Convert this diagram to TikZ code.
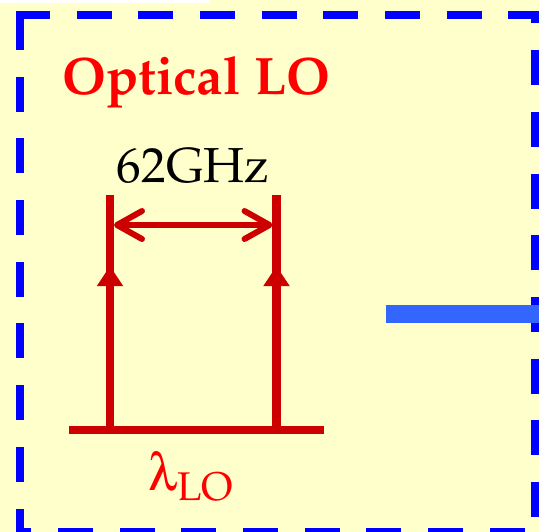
\documentclass[tikz,border=0pt]{standalone}
\usepackage[T1]{fontenc}
\usepackage{mathpazo}
\usepackage[Symbol]{upgreek}
\usepackage{tikz}
\usetikzlibrary{arrows.meta, positioning}
\definecolor{lored}{RGB}{204,0,0}
\definecolor{txtred}{RGB}{255,0,0}
\definecolor{boxblue}{RGB}{0,0,255}
\definecolor{fiberblue}{RGB}{51,102,255}
\definecolor{bgyellow}{RGB}{255,255,204}
\tikzset{
  boxline/.style={line width=4.55pt, color=boxblue,
    dash pattern=on 0.7cm off 0.534cm},
  loline/.style={line width=4.8pt, color=lored},
  gapline/.style={line width=3.4pt, color=lored, line cap=round,
    {Straight Barb[round, length=0.5cm, width=0.56cm]}-{Straight Barb[round, length=0.5cm, width=0.56cm]}},
  uptip/.style={-{Triangle[length=0.4cm, width=0.5cm]}},
  fiber/.style={line width=10.2pt, color=fiberblue},
  titletext/.style={inner sep=0pt, text=txtred, font=\fontsize{30}{36}\selectfont\bfseries},
  gaptext/.style={inner sep=0pt, text=black, font=\fontsize{28}{34}\selectfont},
  lotext/.style={inner sep=0pt, text=txtred, font=\fontsize{30}{36}\selectfont}
}

\begin{document}
\begin{tikzpicture}[x=0.02cm, y=-0.02cm]
  \useasboundingbox (0,0) rectangle (539,532);
  \clip (0,0) rectangle (539,532);
  % Background
  \fill[bgyellow] (0,0) rectangle (539,532);
  \fill[white] (0,0) rectangle (209,3);
  % Dashed frame
  \draw[boxline, dash phase=0.02cm] (16,15) -- (535,15) -- (535,545);
  \draw[boxline] (20,15) -- (20,545);
  \draw[boxline, dash phase=0.474cm] (20,532) -- (545,532);
  % Title
  \node[titletext, anchor=base west] (title) at (62,94.5) {Optical LO};
  % Spectral lines
  \coordinate (barL) at (69,430);
  \coordinate (barR) at (324,430);
  \coordinate (footA) at (110,430);
  \coordinate (midA) at (110,266);
  \coordinate (topA) at (110,195);
  \coordinate (footB) at (276.5,430);
  \coordinate (midB) at (276.5,266);
  \coordinate (topB) at (276.5,195);
  \draw[loline] (barL) -- (barR);
  \draw[loline] (footA) -- (topA);
  \draw[loline] (footB) -- (topB);
  \draw[loline, uptip] (footA) -- (midA);
  \draw[loline, uptip] (footB) -- (midB);
  % Line spacing
  \coordinate (gapL) at (114,225);
  \coordinate (gapR) at (272.5,225);
  \draw[gapline] (gapL) -- (gapR);
  \node[gaptext, anchor=base] (spacing) at (193,182) {62GHz};
  % Wavelength label
  \node[lotext, anchor=base west] (lambda) at (148,490) {$\uplambda_{\mathrm{LO}}$};
  % Fiber output
  \coordinate (fiberin) at (386,314);
  \coordinate (fiberout) at (545,314);
  \draw[fiber] (fiberin) -- (fiberout);
\end{tikzpicture}
\end{document}
